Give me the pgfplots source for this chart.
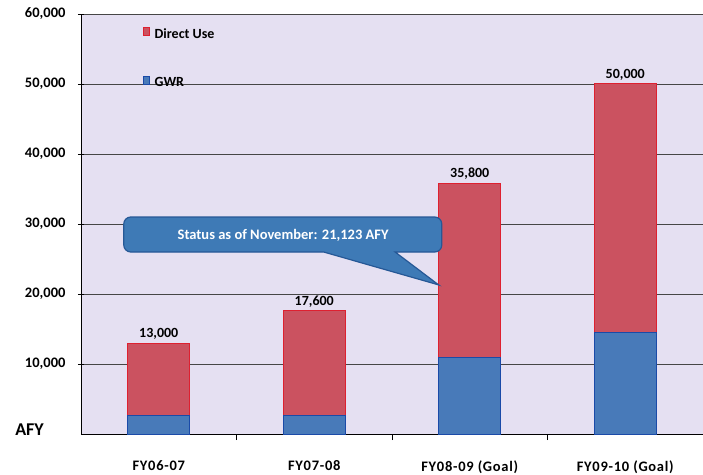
\documentclass[border=0pt]{standalone}
\usepackage{pgfplots}
\pgfplotsset{compat=1.18}
\usepackage{pgfplotstable}
\usepackage{fontspec}
\setmainfont{Carlito}
\newfontfamily\spacedfont[LetterSpace=5]{Carlito}
\definecolor{bg}{RGB}{229,224,242}
\definecolor{redfill}{RGB}{203,82,96}
\definecolor{redline}{RGB}{222,32,48}
\definecolor{bluefill}{RGB}{72,122,185}
\definecolor{blueline}{RGB}{26,74,168}
\definecolor{callfill}{RGB}{62,122,182}
\definecolor{callline}{RGB}{38,88,150}
\pgfplotstableread{
x gwr direct total
0 2700 10300 13000
1 2700 14900 17600
2 11000 24800 35800
3 14500 35500 50000
}\datatable
\pgfplotsset{common/.style={
  scale only axis, width=622pt, height=420pt,
  at={(0,0)}, anchor=south west,
  xmin=-0.5, xmax=3.5, ymin=0, ymax=60000}}
\begin{document}
\begin{tikzpicture}
\useasboundingbox (-81pt,-40pt) rectangle (622pt,434pt);
\begin{axis}[
  common,
  ybar stacked, bar width=62pt,
  axis background/.style={fill=bg},
  axis lines*=left,
  axis line style={black, line width=0.8pt},
  xtick={0,1,2,3},
  xticklabels={FY06-07, FY07-08, FY08-09 (Goal), FY09-10 (Goal)},
  major x tick style={draw=none},
  minor xtick={0.5,1.5,2.5},
  minor tick length=6pt,
  xtick align=outside,
  minor x tick style={black, line width=0.7pt},
  ytick={10000,20000,...,60000},
  ytick align=center,
  major tick length=6pt,
  major y tick style={black, line width=0.7pt},
  scaled y ticks=false,
  ymajorgrids,
  grid style={draw=gray!55!black, line width=0.7pt},
  xticklabel style={font=\spacedfont\bfseries\fontsize{14.5}{16}\selectfont, yshift=-17pt},
  yticklabel style={font=\bfseries\fontsize{14.5}{16}\selectfont, xshift=-9pt},
  reverse legend,
  legend style={at={(rel axis cs:0.094,0.976)}, anchor=north west, draw=none, fill=none,
    font=\bfseries\fontsize{14}{16}\selectfont, row sep=34pt},
  legend cell align=left,
  /pgf/number format/.cd, fixed, 1000 sep={,}, assume math mode=true,
]
\addplot[fill=bluefill, draw=blueline, line width=1pt]
  table[x=x, y=gwr] {\datatable};
\addlegendentry{\hspace{3pt}GWR}
\addplot[fill=redfill, draw=redline, line width=1pt]
  table[x=x, y=direct] {\datatable};
\addlegendentry{\hspace{3pt}Direct Use}
\coordinate (tl) at (axis cs:-0.225,31000);
\coordinate (br) at (axis cs:1.82,26000);
\coordinate (ta) at (axis cs:1.52,26000);
\coordinate (tb) at (axis cs:1.06,26000);
\coordinate (tip) at (axis cs:1.80,21300);
\coordinate (txt) at (axis cs:0.8,28400);
\end{axis}
\begin{axis}[common, hide axis,
  /pgf/number format/.cd, fixed, 1000 sep={,}, assume math mode=true]
\addplot[only marks, mark=none, nodes near coords, point meta=explicit,
  nodes near coords style={font=\bfseries\fontsize{14}{16}\selectfont, text=black, anchor=south, yshift=0pt}]
  table[x=x, y=total, meta=total] {\datatable};
\end{axis}
\filldraw[fill=callfill, draw=callline, line width=1.2pt, rounded corners=7pt]
  (tl) -- (tl -| br) -- (br) [sharp corners] -- (ta) -- (tip) -- (tb)
  [rounded corners=7pt] -- (br -| tl) -- cycle;
\node[text=white, font=\bfseries\fontsize{14.5}{16}\selectfont] at (txt) {Status as of November: 21,123 AFY};
\node[anchor=east, font=\bfseries\fontsize{18}{20}\selectfont, inner sep=0pt] at (-37pt,4pt) {AFY};
\end{tikzpicture}
\end{document}
